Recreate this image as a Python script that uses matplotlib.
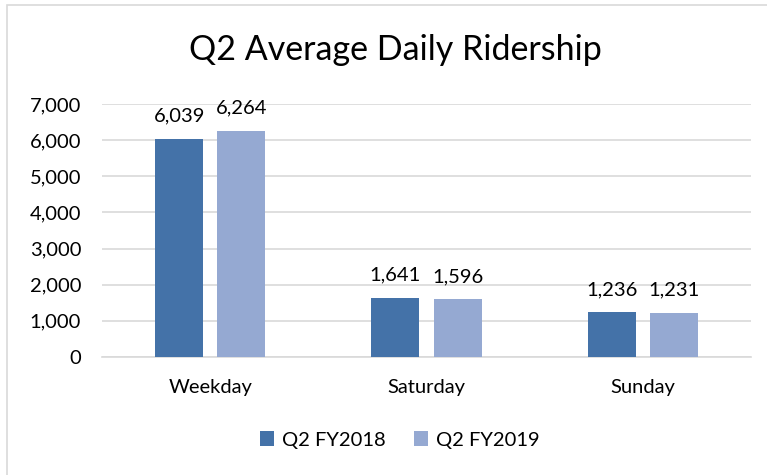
import matplotlib
matplotlib.use("Agg")
import matplotlib.pyplot as plt
from matplotlib.patches import Rectangle
import numpy as np

categories = ["Weekday", "Saturday", "Sunday"]
series_names = ["Q2 FY2018", "Q2 FY2019"]
fy2018 = [6039, 1641, 1236]
fy2019 = [6264, 1596, 1231]
yticks = [0, 1000, 2000, 3000, 4000, 5000, 6000, 7000]

colors = ["#4472A8", "#95A9D2"]
plt.rcParams['font.family'] = ['Lato', 'DejaVu Sans']

fig = plt.figure(figsize=(7.67, 4.75), dpi=100)
# chart frame (left/top edges visible)
fig.patches.append(Rectangle((7/767, -0.1), 1.2, 1 - 5/475 + 0.1, transform=fig.transFigure,
                             fill=False, edgecolor="#D9D9D9", linewidth=1.2))

ax = fig.add_axes([102/767, 1 - 357/475, (751 - 102)/767, (357 - 104)/475])
x = np.arange(len(categories))
w = 0.222
off = (w + 0.065) / 2
b1 = ax.bar(x - off, fy2018, w, color=colors[0], label=series_names[0], zorder=3)
b2 = ax.bar(x + off, fy2019, w, color=colors[1], label=series_names[1], zorder=3)

for bars, vals in ((b1, fy2018), (b2, fy2019)):
    for r, v in zip(bars, vals):
        ax.annotate(f"{v:,}", (r.get_x() + r.get_width() / 2, v), xytext=(0, 10),
                    textcoords="offset points", ha="center", va="bottom",
                    fontsize=14.5, color="#000000")

ax.set_xlim(-0.5, 2.5)
ax.set_ylim(0, 7000)
ax.set_yticks(yticks)
ax.set_yticklabels([f"{t:,}" for t in yticks], fontsize=14.5)
ax.set_xticks(x)
ax.set_xticklabels(categories, fontsize=14.5)
ax.tick_params(axis="both", length=0)
ax.tick_params(axis="y", pad=15)
ax.tick_params(axis="x", pad=16)
ax.grid(axis="y", color="#D9D9D9", linewidth=1.2, zorder=0)
for s in ["top", "right", "left"]:
    ax.spines[s].set_visible(False)
ax.spines["bottom"].set_color("#D9D9D9")
ax.spines["bottom"].set_linewidth(1.2)

fig.text(395/767, 1 - 50/475, "Q2 Average Daily Ridership", ha="center", va="center", fontsize=24.5)

fig.legend(handles=[b1, b2], labels=series_names, loc="center", bbox_to_anchor=(400/767, 1 - 440/475),
           ncol=2, frameon=False, fontsize=14.5, handlelength=0.7, handleheight=0.7,
           handletextpad=0.4, columnspacing=1.4)

fig.savefig("out.png", dpi=100)
